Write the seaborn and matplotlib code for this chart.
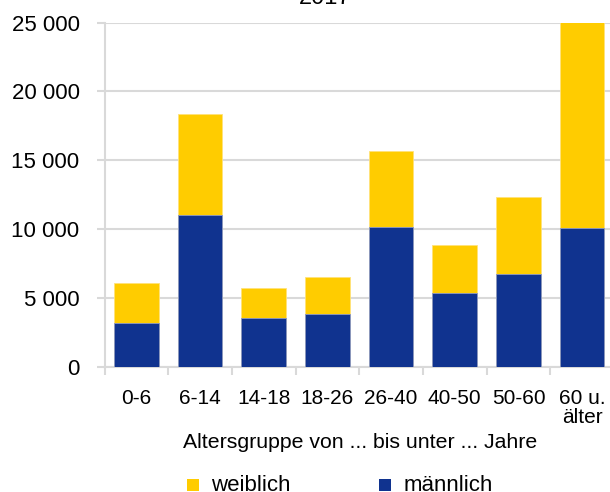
import matplotlib
matplotlib.use("Agg")
import matplotlib.pyplot as plt
from matplotlib.patches import Rectangle
from matplotlib.ticker import FuncFormatter, FixedLocator
import seaborn as sns
import pandas as pd

# Altersgruppen und Anzahl nach Geschlecht, 2017
groups = ["0-6", "6-14", "14-18", "18-26", "26-40", "40-50", "50-60", "60 u.\nälter"]
male = [3200, 11000, 3550, 3800, 10150, 5350, 6750, 10100]
female = [2900, 7400, 2150, 2700, 5550, 3520, 5600, 16500]
y_ticks = [0, 5000, 10000, 15000, 20000, 25000]

YELLOW = "#FFCC00"
BLUE = "#10338F"
GRID = "#D9D9D9"

sns.set_theme(style="white")
plt.rcParams["font.family"] = ["Liberation Sans", "DejaVu Sans"]

df = pd.DataFrame({"gruppe": groups, "männlich": male, "weiblich": female})
df["gesamt"] = df["männlich"] + df["weiblich"]

W, H = 610, 492
fig = plt.figure(figsize=(W / 100, H / 100), dpi=100)
ax = fig.add_axes([104.5 / W, 1 - 366.7 / H, 509.5 / W, 344 / H])

# stacked bars: the full height is drawn in yellow, the male part on top in blue
sns.barplot(data=df, x="gruppe", y="gesamt", color=YELLOW, saturation=1,
            width=0.7, ax=ax, edgecolor="#FFE27A", linewidth=0.6, zorder=3)
sns.barplot(data=df, x="gruppe", y="männlich", color=BLUE, saturation=1,
            width=0.7, ax=ax, edgecolor="#8C9AC6", linewidth=0.6, zorder=4)

ax.set_ylim(0, 25000)
ax.set_xlim(-0.5, len(groups) - 0.5)
ax.yaxis.set_major_locator(FixedLocator(y_ticks))
ax.yaxis.set_major_formatter(FuncFormatter(lambda v, p: f"{int(v):,}".replace(",", " ")))
ax.grid(axis="y", color=GRID, linewidth=1.5, zorder=0)
ax.grid(axis="x", visible=False)

for side in ["top", "right"]:
    ax.spines[side].set_visible(False)
for side in ["left", "bottom"]:
    ax.spines[side].set_color(GRID)
    ax.spines[side].set_linewidth(1.5)

ax.tick_params(axis="y", which="major", length=6, width=1.5, color=GRID,
               labelsize=16, pad=12, labelcolor="#000000", left=True)
ax.set_xticks(range(len(groups)))
ax.set_xticklabels(groups, fontsize=15, color="#000000", linespacing=1.0)
ax.set_xticks([i - 0.5 for i in range(len(groups) + 1)], minor=True)
ax.tick_params(axis="x", which="major", length=0, pad=16)
ax.tick_params(axis="x", which="minor", length=6, width=1.5, color=GRID, bottom=True)

ax.set_xlabel("")
ax.set_ylabel("")

fig.text(360 / W, 1 - 443 / H, "Altersgruppe von ... bis unter ... Jahre",
         ha="center", va="center", fontsize=15.3, color="#000000")
fig.text(325 / W, 1 - 4 / H, "2017", ha="center", va="baseline",
         fontsize=17, color="#000000")

# legend: colour squares followed by their labels
legend_items = [("weiblich", YELLOW, 187.3, 211.5), ("männlich", BLUE, 379.0, 403.5)]
for label, colour, x_box, x_text in legend_items:
    fig.patches.append(Rectangle((x_box / W, 1 - 491 / H), 11.5 / W, 12 / H,
                                 transform=fig.transFigure, facecolor=colour,
                                 edgecolor="none", figure=fig))
    fig.text(x_text / W, 1 - 491 / H, label, ha="left", va="baseline",
             fontsize=16, color="#000000")

fig.savefig("out.png", dpi=100)
